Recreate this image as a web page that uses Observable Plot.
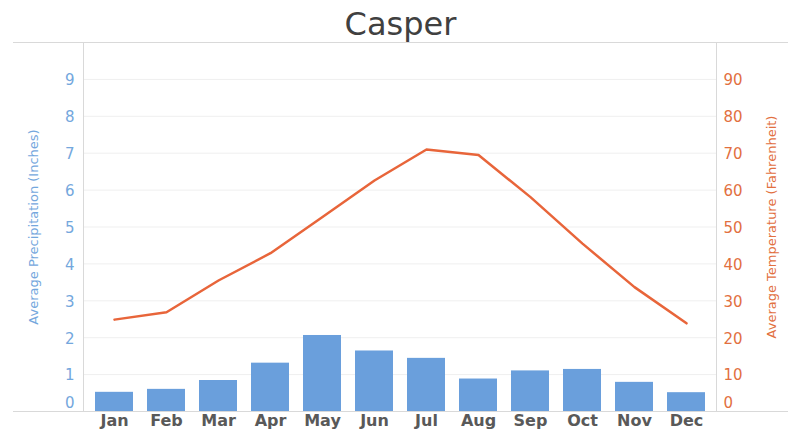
<!DOCTYPE html>
<html>
<head>
<meta charset="utf-8">
<script src="https://cdn.jsdelivr.net/npm/d3@7"></script>
<script src="https://cdn.jsdelivr.net/npm/@observablehq/plot@0.6"></script>
<style>
  html, body { margin: 0; padding: 0; background: #fff; }
  #wrap { position: relative; width: 788px; height: 430px; overflow: hidden; }
  #title { height: 42px; text-align: center; font-family: "DejaVu Sans", sans-serif; font-size: 32px; color: #404040; line-height: 42px; padding-top: 3px; padding-left: 13px; box-sizing: border-box; }
</style>
</head>
<body>
<div id="wrap">
  <div id="title">Casper</div>
  <div id="chart"></div>
</div>
<script>
const months = ["Jan", "Feb", "Mar", "Apr", "May", "Jun", "Jul", "Aug", "Sep", "Oct", "Nov", "Dec"];
const precipitation = [0.52, 0.60, 0.84, 1.31, 2.06, 1.64, 1.44, 0.88, 1.10, 1.14, 0.79, 0.51];
const temperature = [24.9, 26.9, 35.5, 42.9, 52.7, 62.6, 71.0, 69.5, 58.1, 45.5, 33.7, 23.9];
const precipTicks = [0, 1, 2, 3, 4, 5, 6, 7, 8, 9];
const tempTicks = [0, 10, 20, 30, 40, 50, 60, 70, 80, 90];
const leftTitle = "Average Precipitation (Inches)";
const rightTitle = "Average Temperature (Fahrenheit)";

const data = months.map((m, i) => ({month: m, precip: precipitation[i], temp: temperature[i]}));

const blue = "#6a9fdc";
const blueText = "#74a7dd";
const orange = "#e8653a";
const orangeText = "#e2703f";
const ratio = 10; // temperature units per precipitation unit

const chart = Plot.plot({
  width: 788,
  height: 388,
  marginLeft: 83,
  marginRight: 72,
  marginTop: 0,
  marginBottom: 19,
  style: {fontFamily: "DejaVu Sans, sans-serif", fontSize: "15px", background: "#fff"},
  x: {type: "band", domain: months, paddingInner: 0.27, paddingOuter: 0.135},
  y: {domain: [0, 10]},
  marks: [
    Plot.ruleY(precipTicks.filter(d => d > 0), {stroke: "#efefef"}),
    Plot.frame({stroke: "#d9d9d9"}),
    Plot.ruleY([0, 10], {stroke: "#d9d9d9", insetLeft: -70, insetRight: -72}),
    Plot.barY(data, {x: "month", y: "precip", fill: blue}),
    Plot.lineY(data, {x: "month", y: d => d.temp / ratio, stroke: orange, strokeWidth: 2.5}),
    Plot.axisY({ticks: precipTicks.filter(d => d > 0), anchor: "left", tickSize: 0, tickPadding: 9, color: blueText, label: null, dy: 1, fontSize: 15}),
    Plot.axisY({ticks: precipTicks.filter(d => d === 0), anchor: "left", tickSize: 0, tickPadding: 9, color: blueText, label: null, dy: -8, fontSize: 15}),
    Plot.axisY({ticks: tempTicks.filter(d => d > 0).map(d => d / ratio), anchor: "right", tickSize: 0, tickPadding: 7, tickFormat: d => Math.round(d * ratio), color: orangeText, label: null, dy: 1, fontSize: 15}),
    Plot.axisY({ticks: tempTicks.filter(d => d === 0).map(d => d / ratio), anchor: "right", tickSize: 0, tickPadding: 7, tickFormat: d => Math.round(d * ratio), color: orangeText, label: null, dy: -8, fontSize: 15}),
    Plot.axisX({tickSize: 0, tickPadding: 3, fontWeight: "bold", color: "#595959", label: null, fontSize: 16}),
    Plot.text([leftTitle], {frameAnchor: "left", text: d => d, rotate: -90, textAnchor: "middle", dx: -50, fill: blueText, fontSize: 13}),
    Plot.text([rightTitle], {frameAnchor: "right", text: d => d, rotate: -90, textAnchor: "middle", dx: 55, fill: orangeText, fontSize: 13})
  ]
});
document.getElementById("chart").appendChild(chart);
</script>
</body>
</html>
